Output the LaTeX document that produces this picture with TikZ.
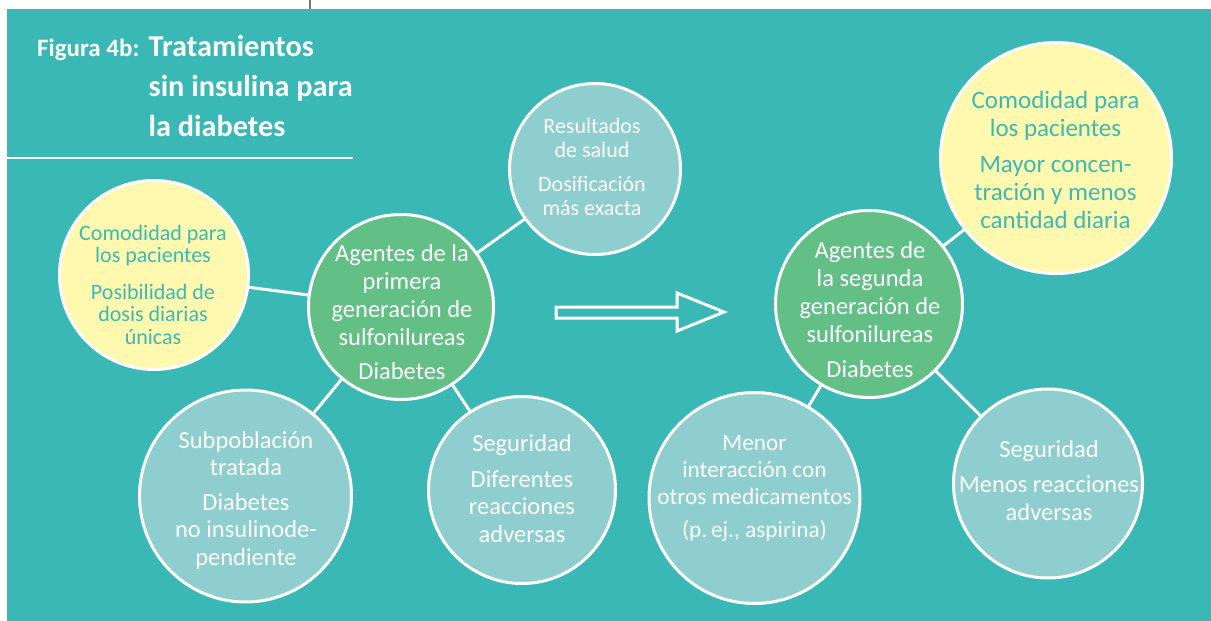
\documentclass[tikz,border=0pt]{standalone}
\usepackage{fontspec}
\setmainfont{Carlito}
\definecolor{bg}{HTML}{3AB8B6}
\definecolor{lt}{HTML}{8FCECE}
\definecolor{gr}{HTML}{62BF86}
\definecolor{yl}{HTML}{FFF9B0}
\definecolor{yt}{HTML}{3CB9B5}
\newcommand\blk[1]{\begin{tabular}[t]{@{}c@{}}#1\end{tabular}}
\newcommand\blkl[1]{\begin{tabular}[t]{@{}l@{}}#1\end{tabular}}
\tikzset{
  circ/.style={circle, draw=white, line width=3pt, inner sep=0pt, outer sep=0pt},
  conn/.style={white, line width=3pt},
  txt/.style={inner sep=0pt, anchor=base, text=white},
  fmain/.style={font=\fontsize{24.5}{27.5}\selectfont},
  fmen/.style={font=\fontsize{23.3}{27.2}\selectfont},
  fgreen/.style={font=\fontsize{24.5}{28}\selectfont},
  fsmall/.style={font=\fontsize{22}{22.5}\selectfont},
  fres/.style={font=\fontsize{22}{24.5}\selectfont},
  fyel/.style={font=\fontsize{25}{28}\selectfont},
}
\begin{document}
\begin{tikzpicture}[x=1pt,y=-1pt]
\path[use as bounding box] (0,0) rectangle (1211,621);
\fill[white] (0,0) rectangle (1211,621);
\fill[bg] (7,9) rectangle (1211,621);
\draw[black!55, line width=1.5pt] (310,0) -- (310,9);
\draw[white, line width=2.5pt] (7,158) -- (353,158);

% title
\node[inner sep=0pt, anchor=base west, text=white, font=\fontsize{25}{25}\selectfont\bfseries] (fig) at (37,56) {Figura 4b:};
\node[inner sep=0pt, anchor=base west, text=white, font=\fontsize{30.3}{40.5}\selectfont\bfseries] (ttl) at (148.5,56) {\blkl{Tratamientos\\sin insulina para\\la diabetes}};

% circles
\node[circ, fill=yl, minimum size=189] (y1) at (154,275) {};
\node[circ, fill=lt, minimum size=171] (res) at (595,169) {};
\node[circ, fill=gr, minimum size=185] (g1) at (401,307) {};
\node[circ, fill=lt, minimum size=212] (sub) at (245.5,496) {};
\node[circ, fill=lt, minimum size=187] (s1) at (522,490) {};
\node[circ, fill=yl, minimum size=231] (y2) at (1056,158) {};
\node[circ, fill=gr, minimum size=187] (g2) at (869,304) {};
\node[circ, fill=lt, minimum size=211] (men) at (754.5,498) {};
\node[circ, fill=lt, minimum size=189] (s2) at (1048,483.5) {};

% connectors
\draw[conn] (g1) -- (y1);
\draw[conn] (g1) -- (res);
\draw[conn] (g1) -- (sub);
\draw[conn] (g1) -- (s1);
\draw[conn] (g2) -- (y2);
\draw[conn] (g2) -- (men);
\draw[conn] (g2) -- (s2);

% arrow
\draw[white, line width=3pt, line join=miter] (556,307) -- (677,307) -- (677,293) -- (724,312) -- (677,331) -- (677,318) -- (556,318) -- cycle;

% texts
\node[txt, fsmall, text=yt] (ty1) at (153,240) {\blk{Comodidad para\\los pacientes\\[14pt]Posibilidad de\\dosis diarias\\únicas}};
\node[txt, fres] (tres) at (592,133) {\blk{Resultados\\de salud\\[9pt]Dosificación\\más exacta}};
\node[txt, fgreen] (tg1) at (402,261) {\blk{Agentes de la\\primera\\generación de\\sulfonilureas\\[6pt]Diabetes}};
\node[txt, fmain] (tsub) at (246,448) {\blk{Subpoblación\\tratada\\[7pt]Diabetes\\no insulinode-\\pendiente}};
\node[txt, fmain] (ts1) at (522,451) {\blk{Seguridad\\[8.5pt]Diferentes\\reacciones\\adversas}};
\node[txt, fyel, text=yt] (ty2) at (1055.5,108) {\blk{Comodidad para\\los pacientes\\[8pt]Mayor concen-\\tración y menos\\cantidad diaria}};
\node[txt, fgreen] (tg2) at (870,258) {\blk{Agentes de\\la segunda\\generación de\\sulfonilureas\\[7pt]Diabetes}};
\node[txt, fmen] (tmen) at (754.5,450) {\blk{Menor\\interacción con\\otros medicamentos\\[6pt](p.\,ej., aspirina)}};
\node[txt, fmain] (ts2) at (1049,457) {\blk{Seguridad\\[8pt]Menos reacciones\\adversas}};
\end{tikzpicture}
\end{document}
